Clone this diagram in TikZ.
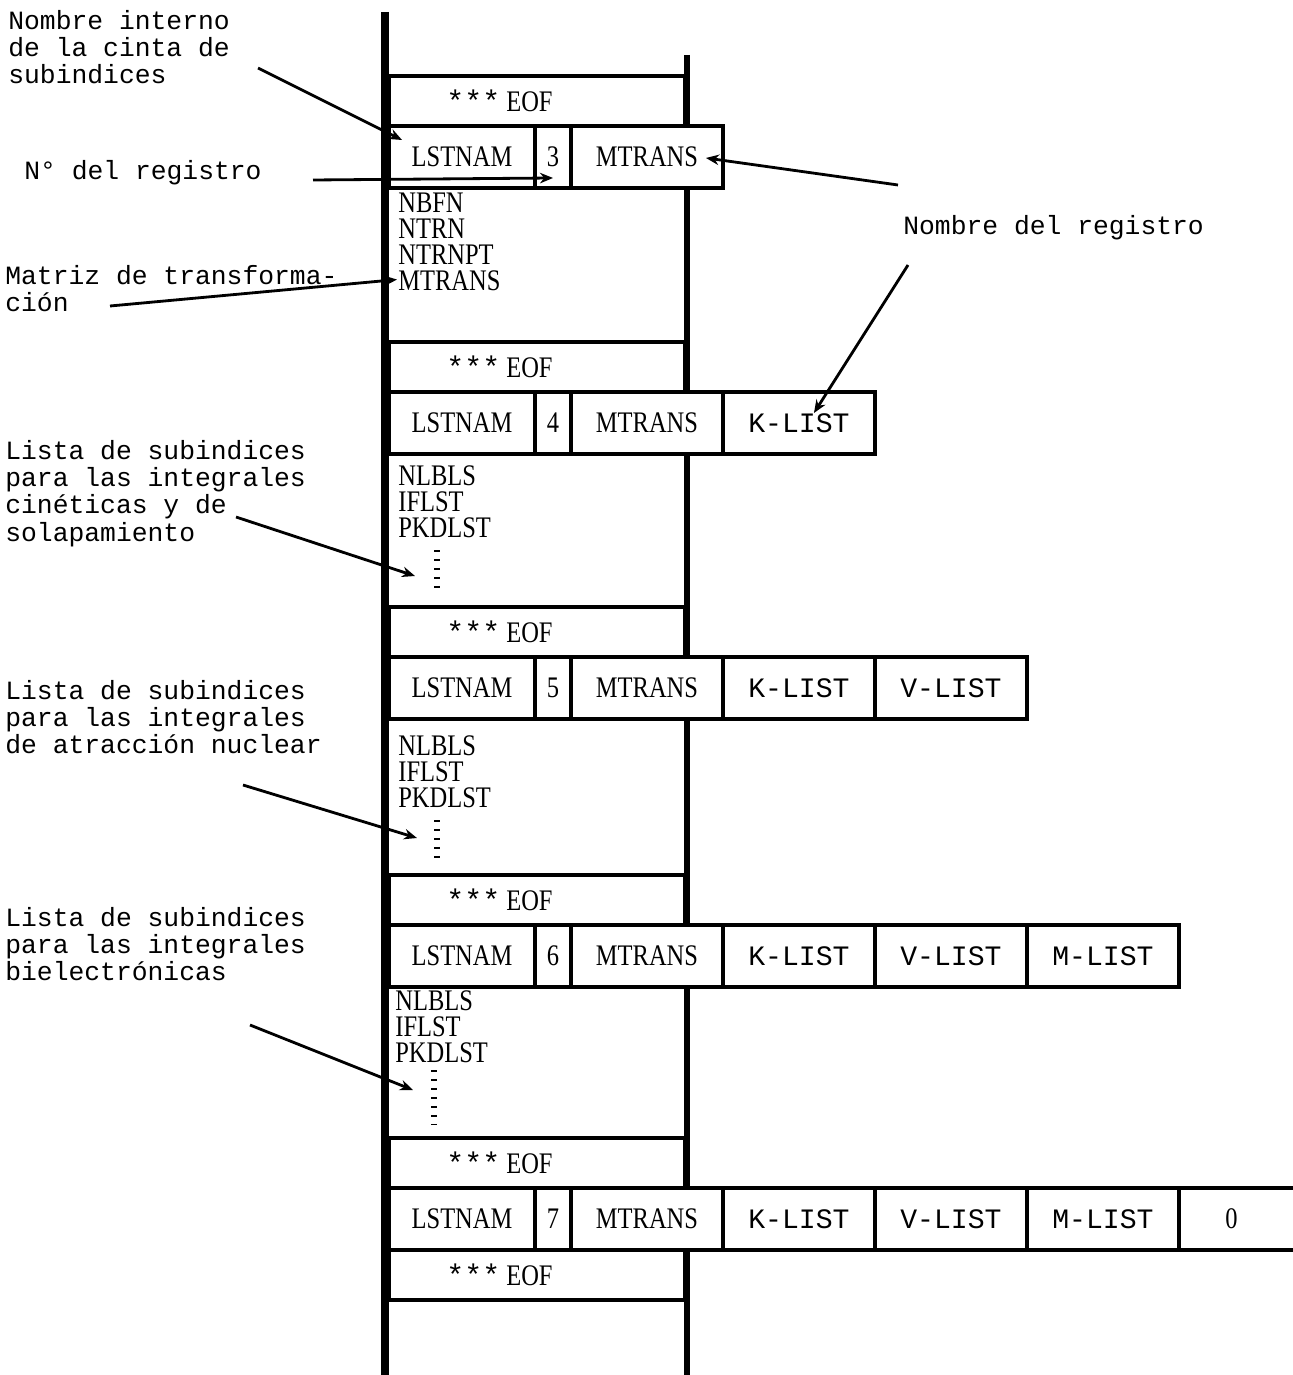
\documentclass[tikz,border=0pt]{standalone}
\usepackage{fontspec}
\setmainfont{Liberation Serif}[FakeStretch=0.82]
\setmonofont{Liberation Mono}
\usetikzlibrary{arrows.meta,positioning,calc}
\newcommand{\cellfont}{\fontsize{17}{14.8}\selectfont}
\newcommand{\tapefont}{\fontsize{15}{15.5}\selectfont\ttfamily}
\newcommand{\listfont}{\fontsize{16}{16}\selectfont\ttfamily}
\newcommand{\eofmark}{{\ttfamily ***}~EOF\hspace*{1.5cm}}
\tikzset{
  railL/.style={line width=4.5pt},
  railR/.style={line width=3.4pt},
  cell/.style={draw,line width=2pt,fill=white,outer sep=0pt,inner sep=0pt,
               minimum height=1.24cm,font=\cellfont},
  namecell/.style={cell,minimum width=2.92cm},
  numcell/.style={cell,minimum width=0.72cm},
  wide/.style={cell,minimum width=3.04cm},
  listcell/.style={wide,font=\listfont},
  eofbox/.style={draw,line width=2pt,outer sep=0pt,inner sep=0pt,
                 minimum width=5.92cm,minimum height=1.0cm,font=\cellfont},
  datos/.style={anchor=north west,align=left,inner sep=0pt,font=\cellfont},
  lbl/.style={anchor=north west,align=left,inner sep=0pt,font=\tapefont},
  ar/.style={-{Stealth[length=2.6mm,width=2.1mm]},line width=1.6pt},
  dots/.style={line width=3pt,dash pattern=on 1.2pt off 3.9pt}
}

\begin{document}
\begin{tikzpicture}[x=0.02cm,y=-0.02cm]
  \useasboundingbox (0,0) rectangle (1292,1375);
  % borde derecho de la cinta
  \draw[railR] (687,55) -- (687,1375);

  % registro 3
  \node[eofbox] (eof1) at (537,101) {\eofmark};
  \node[namecell,below=0pt of eof1.south west,anchor=north west] (r3name) {LSTNAM};
  \node[numcell,right=0pt of r3name] (r3num) {3};
  \node[wide,right=0pt of r3num] (r3mt) {MTRANS};
  \node[datos] (d3) at (398,193) {NBFN\\NTRN\\NTRNPT\\MTRANS};

  % registro 4
  \node[eofbox] (eof2) at (537,367) {\eofmark};
  \node[namecell,below=0pt of eof2.south west,anchor=north west] (r4name) {LSTNAM};
  \node[numcell,right=0pt of r4name] (r4num) {4};
  \node[wide,right=0pt of r4num] (r4mt) {MTRANS};
  \node[listcell,right=0pt of r4mt] (r4k) {K-LIST};
  \node[datos] (d4) at (398,465) {NLBLS\\IFLST\\PKDLST};
  \draw[dots] (437,550) -- (437,590);

  % registro 5
  \node[eofbox] (eof3) at (537,632) {\eofmark};
  \node[namecell,below=0pt of eof3.south west,anchor=north west] (r5name) {LSTNAM};
  \node[numcell,right=0pt of r5name] (r5num) {5};
  \node[wide,right=0pt of r5num] (r5mt) {MTRANS};
  \node[listcell,right=0pt of r5mt] (r5k) {K-LIST};
  \node[listcell,right=0pt of r5k] (r5v) {V-LIST};
  \node[datos] (d5) at (398,735) {NLBLS\\IFLST\\PKDLST};
  \draw[dots] (437,820) -- (437,858);

  % registro 6
  \node[eofbox] (eof4) at (537,900) {\eofmark};
  \node[namecell,below=0pt of eof4.south west,anchor=north west] (r6name) {LSTNAM};
  \node[numcell,right=0pt of r6name] (r6num) {6};
  \node[wide,right=0pt of r6num] (r6mt) {MTRANS};
  \node[listcell,right=0pt of r6mt] (r6k) {K-LIST};
  \node[listcell,right=0pt of r6k] (r6v) {V-LIST};
  \node[listcell,right=0pt of r6v] (r6m) {M-LIST};
  \node[datos] (d6) at (395,990) {NLBLS\\IFLST\\PKDLST};
  \draw[dots] (434,1070) -- (434,1124);

  % registro 7
  \node[eofbox] (eof5) at (537,1163) {\eofmark};
  \node[namecell,below=0pt of eof5.south west,anchor=north west] (r7name) {LSTNAM};
  \node[numcell,right=0pt of r7name] (r7num) {7};
  \node[wide,right=0pt of r7num] (r7mt) {MTRANS};
  \node[listcell,right=0pt of r7mt] (r7k) {K-LIST};
  \node[listcell,right=0pt of r7k] (r7v) {V-LIST};
  \node[listcell,right=0pt of r7v] (r7m) {M-LIST};
  \node[cell,minimum width=2.8cm,right=0pt of r7m] (r7cero) {0\hspace*{0.7cm}};
  \node[eofbox,below=0pt of r7name.south west,anchor=north west] (eof6) {\eofmark};

  % borde izquierdo
  \draw[railL] (385,12) -- (385,1375);

  % textos
  \node[lbl] (lcinta) at (8,10) {Nombre interno\\de la cinta de\\subindices};
  \node[lbl] (lnum) at (24,160) {N° del registro};
  \node[lbl] (lmat) at (5,265) {Matriz de transforma-\\ción};
  \node[lbl] (lreg) at (903,215) {Nombre del registro};
  \node[lbl] (lkin) at (5,440) {Lista de subindices\\para las integrales\\cinéticas y de\\solapamiento};
  \node[lbl] (lnuc) at (5,680) {Lista de subindices\\para las integrales\\de atracción nuclear};
  \node[lbl] (lbie) at (5,907) {Lista de subindices\\para las integrales\\bielectrónicas};

  % flechas
  \coordinate (t1) at (258,68);
  \coordinate (t2) at (313,180);
  \coordinate (t3) at (110,306);
  \coordinate (t4) at (898,185);
  \coordinate (t5) at (908,265);
  \coordinate (t6) at (236,517);
  \coordinate (t7) at (243,785);
  \coordinate (t8) at (250,1025);
  \coordinate (k6) at (415,576);
  \coordinate (k7) at (417,838);
  \coordinate (k8) at (413,1090);
  \draw[ar] (t1) -- ($(r3name.north west)+(13,14)$);
  \draw[ar] (t2) -- ($(r3num.south)+(0,-10)$);
  \draw[ar] (t3) -- ($(d3.south west)+(-1,-12)$);
  \draw[ar] (t4) -- ($(r3mt.east)+(-17,1)$);
  \draw[ar] (t5) -- ($(r4k.north)+(15,21)$);
  \draw[ar] (t6) -- (k6);
  \draw[ar] (t7) -- (k7);
  \draw[ar] (t8) -- (k8);
\end{tikzpicture}
\end{document}
